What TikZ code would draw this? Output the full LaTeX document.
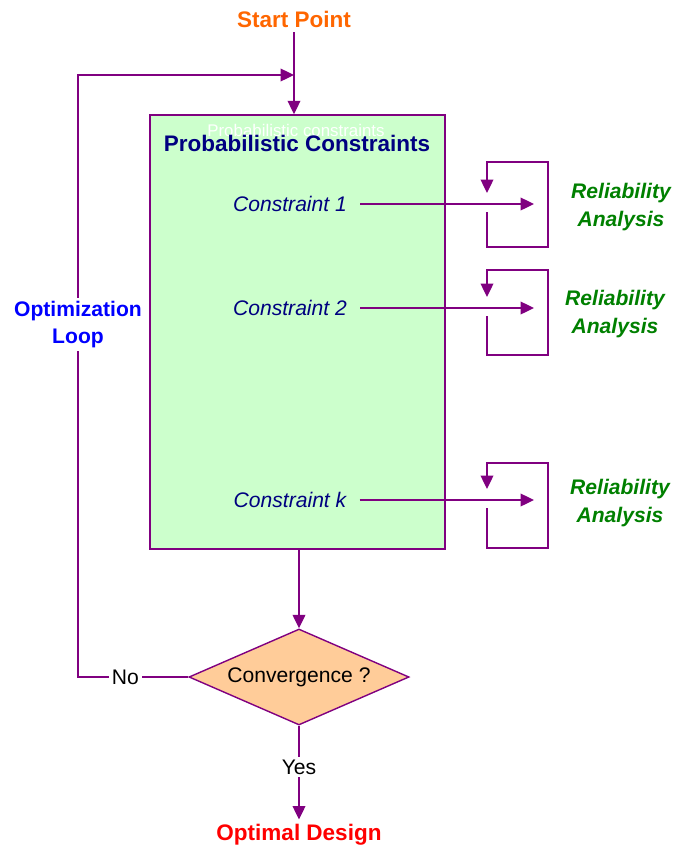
\documentclass[tikz,border=0pt]{standalone}
\usepackage{fontspec}
\setmainfont{Liberation Sans}
\usepackage{xcolor}
\usetikzlibrary{arrows.meta, positioning, shapes.geometric}

\definecolor{flowpurple}{HTML}{800080}
\definecolor{boxgreen}{HTML}{CCFFCC}
\definecolor{decpeach}{HTML}{FFCC99}
\definecolor{titlenavy}{HTML}{000080}
\definecolor{relgreen}{HTML}{008000}
\definecolor{startorange}{HTML}{FF6600}

\begin{document}
\begin{tikzpicture}[
    x=0.025cm, y=-0.025cm,
    title/.style={font=\fontsize{16}{19}\selectfont\bfseries, text=#1},
    title/.default=black,
    tag/.style={font=\fontsize{15}{19}\selectfont, text=#1, align=center},
    tag/.default=black,
    looptag/.style={font=\fontsize{15}{19.5}\selectfont\bfseries, text=blue, align=center},
    constraint/.style={font=\fontsize{15}{19}\selectfont\itshape, text=titlenavy},
    reliability/.style={font=\fontsize{15}{19.5}\selectfont\bfseries\itshape, text=relgreen, align=center},
    arrow/.style={-{Triangle[length=9.5pt, width=9pt]}, line width=1pt, color=flowpurple},
    gap/.style={fill=white, inner sep=2pt}
]
    \useasboundingbox (0,0) rectangle (675,849);

    \node[title=startorange] (start) at (294,19) {Start Point};
    \node[draw=flowpurple, line width=1pt, fill=boxgreen, minimum width=7.375cm, minimum height=10.85cm] (pc) at (297.5,332) {};
    \node[font=\fontsize{12}{14}\selectfont, text=white] (pcghost) at (296,130) {Probabilistic constraints};
    \node[title=titlenavy] (pctitle) at (297,143) {Probabilistic Constraints};

    \foreach \n/\y/\top/\bot/\rx/\ry in {1/204/162/247/621/207, 2/308/270/355/615/314, k/500/463/548/620/503} {
        \node[constraint] (c\n) at (290,\y) {Constraint \n};
        \coordinate (hit\n) at (534,\y);
        \node[reliability] (rel\n) at (\rx,\ry) {Reliability\\Analysis};
        \draw[arrow] ([xshift=6pt]c\n.east) -- (hit\n);
        \draw[arrow] (487,\y+8) -- (487,\bot) -- (548,\bot) -- (548,\top) -- (487,\top) -- (487,\y-11);
    }

    \node[diamond, aspect=2.29, draw=flowpurple, line width=1pt, fill=decpeach, minimum width=5.5cm, minimum height=2.4cm, inner sep=0pt, tag] (conv) at (299,677) {Convergence ?};
    \node[title=red] (optimal) at (299,835) {Optimal Design};
    \coordinate (merge) at (294,75);
    \coordinate (loopcorner) at (78,677);

    \draw[arrow] (start) -- (pc.north -| start);
    \draw[arrow] (pc.south -| conv.north) -- (conv.north);
    \draw[arrow] (conv.south) -- node[gap, tag, pos=0.44] {Yes} (optimal);
    \draw[arrow] (conv.west) -- node[gap, tag, pos=0.57] {No} (loopcorner)
        -- node[gap, looptag, pos=0.585] {Optimization\\Loop} (loopcorner |- merge) -- (merge);
\end{tikzpicture}
\end{document}
